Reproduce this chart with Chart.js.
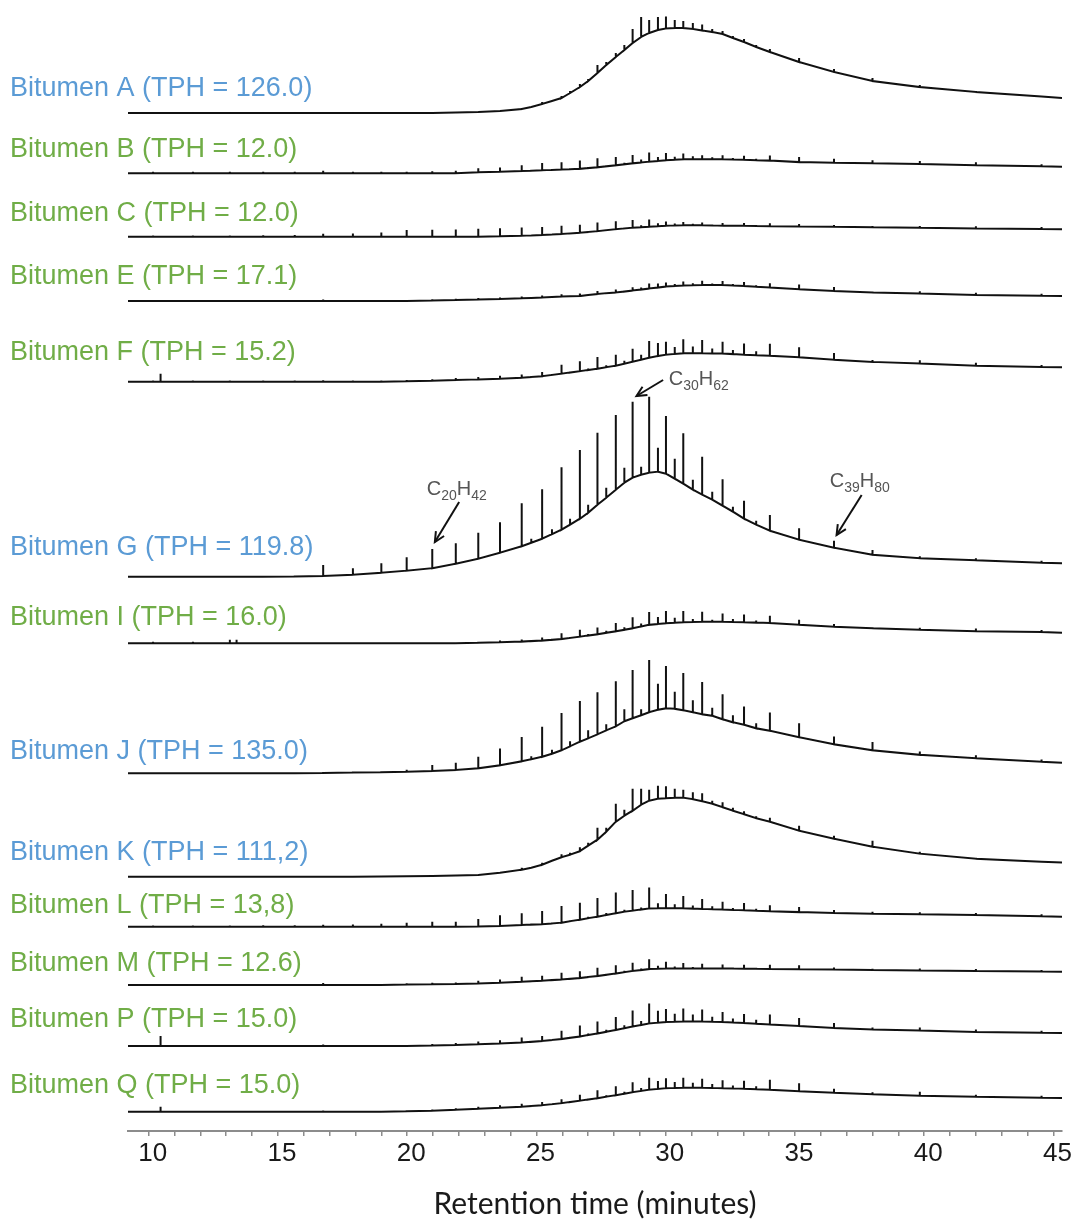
<!DOCTYPE html>
<html>
<head>
<meta charset="utf-8">
<script src="https://cdn.jsdelivr.net/npm/chart.js@4.4.1/dist/chart.umd.min.js"></script>
<style>
  html, body { margin: 0; padding: 0; background: #fff; }
  #wrap { width: 1072px; height: 1223px; position: relative; }
</style>
</head>
<body>
<div id="wrap"><canvas id="grafico"></canvas></div>
<script>
// retention times (minutes) used by every chromatogram
const retentionTimes = [
  9.2, 10.17, 10.46, 11.71, 13.14, 13.4, 14.43, 15.65, 16.75, 17.9,
  19.0, 19.98, 20.97, 21.88, 22.75, 23.59, 24.43, 24.8, 25.22, 25.6,
  25.97, 26.3, 26.68, 27.0, 27.36, 27.7, 28.07, 28.4, 28.72, 29.05,
  29.36, 29.7, 30.01, 30.35, 30.68, 31.05, 31.41, 31.8, 32.2, 32.6,
  33.03, 33.5, 34.03, 35.16, 36.51, 38.0, 39.83, 42.0, 44.54, 45.33
];

const sampleLabels = [
  'Bitumen A (TPH = 126.0)', 'Bitumen B (TPH = 12.0)', 'Bitumen C (TPH = 12.0)',
  'Bitumen E (TPH = 17.1)', 'Bitumen F (TPH = 15.2)', 'Bitumen G (TPH = 119.8)',
  'Bitumen I (TPH = 16.0)', 'Bitumen J (TPH = 135.0)', 'Bitumen K (TPH = 111,2)',
  'Bitumen L (TPH = 13,8)', 'Bitumen M (TPH = 12.6)', 'Bitumen P (TPH = 15.0)',
  'Bitumen Q (TPH = 15.0)'
];
const highTph = [true, false, false, false, false, true, false, true, true, false, false, false, false];

// unresolved hump (intensity above each trace start) and n-alkane spike heights
const humpA = [
  0, 0, 0, 0, 0, 0, 0, 0, 0, 0,
  0, 0, 0, 0.5, 1, 2, 4, 6, 9, 12,
  15, 20, 26, 32, 40, 48, 56, 63, 70, 76,
  80, 83, 84.5, 85, 85, 84, 82.5, 81, 79, 75,
  71, 66, 61, 51, 41, 32, 26, 21, 16.5, 15
];
const spikeA = [
  0, 0, 0, 0, 0, 0, 0, 0, 0, 0,
  0, 0, 0, 0, 0, 0, 1, 0, 2, 0,
  2, 2, 3, 2, 8, 3, 4, 5, 14, 20,
  13, 13, 12, 8, 7, 6, 6, 3, 3, 2,
  3, 2, 3, 4, 3, 3, 2, 1, 0, 0
];
const humpB = [
  0, 0, 0, 0, 0, 0, 0, 0, 0, 0,
  0, 0, 0, 0, 1, 1.5, 2.3, 2.6, 3, 3.4,
  3.8, 4.1, 4.5, 5.2, 6, 7, 8, 9, 10, 10.8,
  11.6, 12.3, 13, 13.5, 14, 14, 14, 14, 14, 13.8,
  13.5, 13.1, 12.7, 11.2, 10.5, 10, 9.2, 8, 7, 6.6
];
const spikeB = [
  0, 1.5, 0, 1.5, 1.5, 0, 1.5, 1.5, 2.5, 1.5,
  1.5, 1.5, 2, 2.5, 4, 4.3, 5.7, 1, 7.3, 1,
  7.3, 1, 8.3, 1, 9, 1, 8.3, 1.5, 8.3, 3,
  9.3, 4, 7.3, 3, 5.7, 3, 4, 2, 4, 1.5,
  4, 1.5, 5, 5, 4, 3, 3, 3, 2, 0
];
const humpC = [
  0, 0, 0, 0, 0, 0, 0, 0, 0, 0,
  0, 0, 0, 0, 0, 0.5, 1, 1.3, 1.7, 2.2,
  2.7, 3.3, 4, 4.7, 5.5, 6.5, 7.5, 8.3, 9, 9.5,
  10, 10.5, 11, 11.3, 11.5, 11.5, 11.5, 11.3, 11, 11,
  11, 10.8, 10.5, 10.3, 10, 9.5, 9, 8.2, 7.6, 7.4
];
const spikeC = [
  0, 1.3, 0, 1.3, 1.3, 0, 1.5, 1.7, 3, 3.3,
  4.3, 6.7, 7, 7.3, 8, 8, 8.3, 0.5, 8, 0.5,
  8.3, 0.5, 8, 0.5, 8.7, 0.5, 8, 1, 7.7, 2,
  7.3, 3, 4.3, 2, 3.3, 1.5, 2.7, 1, 2.7, 1,
  2.7, 1, 3, 2.3, 1.7, 1.3, 1.7, 2.3, 2, 0
];
const humpE = [
  0, 0, 0, 0, 0, 0, 0, 0, 0, 0,
  0, 0, 0.5, 1, 1.5, 2, 2.7, 3.1, 3.5, 4,
  4.5, 4.7, 5, 6, 7, 7.8, 8.5, 9.5, 10.5, 11.5,
  12.5, 13.5, 14.5, 15, 15.5, 15.8, 16, 16, 16, 15.5,
  15, 14.3, 13.5, 11.8, 10, 8.5, 7.5, 6, 5.2, 5
];
const spikeE = [
  0, 1, 0, 1, 1, 0, 1, 1, 1.5, 1,
  1, 1, 1.2, 1.2, 1.5, 1.5, 1.7, 0, 2, 0,
  2.2, 0, 2.5, 0, 3, 0.5, 3, 1, 3.3, 2,
  5, 4, 4, 2, 4, 2, 4.3, 1.5, 4, 1.5,
  4, 1.5, 4.3, 4.7, 4, 1, 2.3, 2.3, 2, 0
];
const humpF = [
  0, 0, 0, 0, 0, 0, 0, 0, 0, 0,
  0, 0.5, 1, 1.7, 2.3, 3, 4, 4.7, 5.5, 6.8,
  8, 9.2, 10.5, 11.7, 13, 14.5, 16, 18, 20, 22,
  24, 25.7, 27, 27.8, 28.4, 28.4, 28.4, 28.3, 28.2, 27.6,
  27, 26.5, 26, 24.4, 22, 19.8, 18.2, 16, 14.6, 14.4
];
const spikeF = [
  0, 1.2, 8, 1.2, 1.2, 0, 1.2, 1.2, 1.5, 1.2,
  1.2, 1.2, 1.5, 2, 2.3, 3, 3.3, 1, 4.3, 1,
  9, 1, 10, 1.5, 11.7, 2, 11, 3, 13, 5,
  16.7, 13, 13, 7, 14, 6.7, 13.3, 5, 11.7, 4,
  11.3, 4, 12, 10, 6.7, 2, 3.3, 3, 2, 0
];
const humpG = [
  0, 0, 0, 0, 0, 0, 0, 0.3, 0.7, 2,
  4, 6, 8.5, 13, 18, 24, 30.5, 34, 38, 42.5,
  47, 52, 58, 64, 72, 79, 87, 94, 99, 102,
  104, 105, 103, 98, 93, 87, 82, 77, 71, 65,
  58, 52, 46, 37, 29, 22, 18.5, 16.5, 14, 13.4
];
const spikeG = [
  0, 0, 0, 1, 1, 0, 1, 1, 11, 6.4,
  9.4, 13.4, 19.2, 20.4, 26, 30.4, 43, 4, 49.4, 5,
  62.4, 6, 68.7, 8, 72, 10, 74.7, 15, 76, 8,
  76, 24, 57.7, 20, 50.4, 10, 38, 8, 26.4, 5,
  18, 4, 15.7, 11.4, 7, 4.7, 2, 2, 2, 0
];
const humpI = [
  0, 0, 0, 0, 0, 0, 0, 0, 0, 0,
  0, 0, 0, 0, 0.5, 1, 1.7, 2.2, 2.7, 3.5,
  4.3, 5.4, 6.6, 7.8, 9, 10.5, 12, 13.5, 15, 16.8,
  18.5, 19.3, 20, 20.5, 21, 21.3, 21.5, 21.5, 21.5, 21.3,
  21, 20.7, 20.3, 18.5, 16.5, 15, 13.5, 12, 11.3, 10.6
];
const spikeI = [
  0, 1.5, 0, 1.5, 3.5, 3.5, 0.7, 0.7, 0.7, 0.7,
  0.7, 0.7, 0.7, 0.7, 1, 1.7, 2, 0.5, 3, 1,
  5.7, 1, 7, 1.5, 6.7, 2, 8.3, 2.5, 11, 3,
  12.7, 7, 12.3, 5, 11.3, 3, 10, 2, 8.3, 3,
  7.7, 2, 7.3, 5, 2.7, 1, 2, 2.7, 2, 0
];
const humpJ = [
  0, 0, 0, 0, 0, 0, 0, 0, 0.3, 0.7,
  1, 1.5, 2.3, 3.3, 5, 8, 12, 14, 16.5, 19.5,
  23, 27, 31.6, 35, 39, 43, 47, 52, 55, 58,
  61, 63.5, 65, 64.5, 63, 61, 59, 57.5, 54, 51,
  48.5, 45, 42.5, 36, 29, 23, 18.5, 15, 11.6, 10.6
];
const spikeJ = [
  0, 0, 0, 0, 0, 0, 0, 0, 1, 1,
  1, 2, 6, 7.3, 11.6, 16.7, 24.3, 3, 30, 4,
  37.3, 5, 40.7, 8, 42, 6, 45, 12, 48.3, 6,
  52.4, 26, 42.3, 17, 37.3, 12, 32.3, 8, 25, 7,
  18.3, 5, 18.4, 14, 7.7, 8.3, 3.3, 3, 2.3, 0
];
const humpK = [
  0, 0, 0, 0, 0, 0, 0, 0, 0, 0,
  0.3, 0.5, 0.8, 1.2, 1.7, 4, 7, 9, 12, 16,
  19.5, 22, 25.5, 31, 37, 45, 55, 61, 66, 72,
  76, 78, 78.5, 79, 79, 77.5, 75.5, 73, 69.5, 66,
  62.5, 58.5, 55, 46, 38, 30, 23, 18, 15, 14.3
];
const spikeK = [
  0, 0, 0, 0, 0, 0, 0, 0, 1, 0,
  0, 0, 0, 0, 0, 0, 2, 0, 2, 0,
  3, 2, 4, 3, 12, 4, 18, 6, 22, 16,
  11, 13, 12, 9, 8, 7, 8, 3, 5, 3,
  3, 2, 4, 5, 3, 6, 2, 1, 0, 0
];
const humpL = [
  0, 0, 0, 0, 0, 0, 0, 0, 0, 0,
  0, 0, 0, 0, 0.3, 0.8, 1.7, 2.1, 2.5, 3.2,
  4, 5.5, 7, 8.5, 10, 11.7, 13.5, 15, 16, 17.2,
  18.3, 18.4, 18.5, 18.5, 18.4, 18.1, 17.8, 17.5, 17.2, 16.8,
  16.5, 16, 15.5, 14.6, 13.7, 13, 12.4, 11.7, 10.5, 10
];
const spikeL = [
  0, 1.3, 0, 1.3, 1.3, 1, 1.5, 1.5, 2, 2.3,
  3, 4, 5, 5, 7.3, 10.7, 11.7, 1, 13.3, 1,
  16.7, 1, 17, 1.5, 18.7, 2, 20.7, 2, 20.7, 2,
  21, 5, 14.3, 4, 12.3, 3, 10, 3, 7.7, 2,
  7.3, 2, 6, 5, 3, 2, 2, 2, 2, 0
];
const humpM = [
  0, 0, 0, 0, 0, 0, 0, 0, 0, 0,
  0, 0.5, 0.7, 1, 1.5, 2.3, 3.3, 3.8, 4.3, 4.9,
  5.5, 6.2, 7, 8, 9, 10.2, 11.5, 12.8, 14, 15,
  16, 16.3, 16.5, 16.6, 16.7, 16.6, 16.5, 16.5, 16.4, 16.4,
  16.3, 16.2, 16, 15.8, 15.5, 15, 14.5, 14, 13.4, 13.3
];
const spikeM = [
  0, 1, 0, 1, 1, 0, 1, 1, 2, 1,
  1, 1.2, 1.5, 1.5, 2.7, 3.3, 5, 0.5, 5, 0.5,
  6.7, 0.5, 6.7, 1, 8.3, 1, 8.3, 1.5, 8.3, 1.5,
  9.7, 3, 6.7, 2, 5.3, 1.5, 4.7, 1, 4, 1,
  4, 1, 4.3, 4, 2, 1.3, 2, 2, 1.7, 0
];
const humpP = [
  0, 0, 0, 0, 0, 0, 0, 0, 0, 0,
  0, 0, 0.5, 1, 1.7, 2.5, 3.5, 4.2, 5, 6,
  7, 8.2, 9.5, 11, 12.5, 14.2, 16, 17.8, 19.5, 21,
  22.5, 23.3, 24, 24.3, 24.5, 24.5, 24.5, 24.3, 24, 23.5,
  23, 22.3, 21.5, 20, 18, 16.5, 15.5, 14, 13.3, 13
];
const spikeP = [
  0, 1, 10, 1, 1, 0, 1, 1, 1.5, 1,
  1, 1, 1.5, 2, 2.7, 3.3, 5, 0.5, 5, 0.5,
  8.3, 1, 11, 1.5, 12, 2, 13, 3, 16, 4,
  20, 12, 13, 8, 13, 7, 12, 5, 10, 4,
  9, 4, 10, 8, 5, 2, 3, 2.5, 2, 0
];
const humpQ = [
  0, 0, 0, 0, 0, 0, 0, 0, 0, 0,
  0, 0.5, 1, 2, 3, 4, 5, 5.7, 6.5, 7.5,
  8.5, 9.7, 11, 12.2, 13.5, 15, 16.5, 18, 19.5, 20.8,
  22, 22.8, 23.5, 23.8, 24, 24, 24, 23.8, 23.5, 23.3,
  23, 22.5, 22, 20.5, 19, 17.5, 16, 15, 14, 13.7
];
const spikeQ = [
  0, 1, 5, 1, 1, 0, 1, 1, 1.3, 1,
  1, 1, 1.2, 1.5, 2, 2.5, 3, 0.5, 3.3, 0.5,
  4, 1, 6, 1, 8, 1.5, 9, 2, 10, 3,
  12, 8, 10, 6, 10, 5, 9, 4, 8, 3,
  8, 3, 10, 8, 4, 2, 4, 2, 2, 0
];

const xTicks = [10, 15, 20, 25, 30, 35, 40, 45];

// ---- layout (not data) ----
// vertical start level of each trace, in the same units as the hidden y axis
const traceLevels = [1018, 957.7, 894.3, 830, 749.3, 554.3, 487.7, 357.7, 254.3, 204.3, 146, 85, 19.3];
const labelY = [89, 150, 214, 277, 353, 548, 618, 752, 853, 906, 964, 1020, 1086];

const humps = [humpA, humpB, humpC, humpE, humpF, humpG, humpI, humpJ, humpK, humpL, humpM, humpP, humpQ];
const spikes = [spikeA, spikeB, spikeC, spikeE, spikeF, spikeG, spikeI, spikeJ, spikeK, spikeL, spikeM, spikeP, spikeQ];

function buildSeries(level, hump, spike) {
  const pts = [];
  retentionTimes.forEach((t, i) => {
    const y = level + hump[i];
    pts.push({ x: t, y: y });
    if (spike[i] > 0) {
      pts.push({ x: t, y: y + spike[i] });
      pts.push({ x: t, y: y });
    }
  });
  return pts;
}

const datasets = humps.map((h, k) => ({
  label: sampleLabels[k],
  data: buildSeries(traceLevels[k], h, spikes[k]),
  borderColor: '#111',
  borderWidth: 2,
  pointRadius: 0,
  tension: 0,
  fill: false
}));

// annotated n-alkanes: arrow tip, arrow tail, text anchor (x in minutes, y in axis units)
const annotations = [
  { parts: [['C', 0], ['20', 1], ['H', 0], ['42', 1]], tip: [21.07, 589], tail: [22.01, 629], text: [21.92, 643], align: 'center' },
  { parts: [['C', 0], ['30', 1], ['H', 0], ['62', 1]], tip: [28.87, 735], tail: [29.9, 751], text: [30.12, 753], align: 'left' },
  { parts: [['C', 0], ['39', 1], ['H', 0], ['80', 1]], tip: [36.61, 596], tail: [37.58, 636], text: [37.51, 651], align: 'center' }
];

function drawFormula(ctx, parts, x, y, align) {
  const big = '20px "Liberation Sans", Arial, sans-serif';
  const small = '14px "Liberation Sans", Arial, sans-serif';
  let w = 0;
  parts.forEach(p => { ctx.font = p[1] ? small : big; w += ctx.measureText(p[0]).width; });
  let cx = align === 'center' ? x - w / 2 : x;
  ctx.textBaseline = 'alphabetic';
  ctx.textAlign = 'left';
  parts.forEach(p => {
    ctx.font = p[1] ? small : big;
    ctx.fillText(p[0], cx, p[1] ? y + 12 : y + 7);
    cx += ctx.measureText(p[0]).width;
  });
}

function drawArrow(ctx, x1, y1, x2, y2) {
  ctx.beginPath();
  ctx.moveTo(x1, y1);
  ctx.lineTo(x2, y2);
  ctx.stroke();
  const a = Math.atan2(y2 - y1, x2 - x1), L = 11, w = 0.45;
  ctx.beginPath();
  ctx.moveTo(x2 - L * Math.cos(a - w), y2 - L * Math.sin(a - w));
  ctx.lineTo(x2, y2);
  ctx.lineTo(x2 - L * Math.cos(a + w), y2 - L * Math.sin(a + w));
  ctx.stroke();
}

const labelPlugin = {
  id: 'labels',
  afterDatasetsDraw(chart) {
    const ctx = chart.ctx;
    const xs = chart.scales.x, ys = chart.scales.y;
    ctx.save();
    ctx.font = '27px "Liberation Sans", Arial, sans-serif';
    ctx.textAlign = 'left';
    ctx.textBaseline = 'middle';
    sampleLabels.forEach((s, k) => {
      ctx.fillStyle = highTph[k] ? '#5b9bd5' : '#70ad47';
      ctx.fillText(s, 10, labelY[k]);
    });
    annotations.forEach(a => {
      ctx.strokeStyle = '#111';
      ctx.lineWidth = 2;
      drawArrow(ctx, xs.getPixelForValue(a.tail[0]), ys.getPixelForValue(a.tail[1]),
        xs.getPixelForValue(a.tip[0]), ys.getPixelForValue(a.tip[1]));
      ctx.fillStyle = '#555';
      drawFormula(ctx, a.parts, xs.getPixelForValue(a.text[0]), ys.getPixelForValue(a.text[1]), a.align);
    });
    ctx.restore();
  }
};

const ctx = document.getElementById('grafico').getContext('2d');

new Chart(ctx, {
  type: 'line',
  data: { datasets: datasets },
  options: {
    responsive: true,
    maintainAspectRatio: false,
    animation: false,
    events: [],
    layout: { padding: { left: 128, right: 10, top: 0, bottom: 0 } },
    plugins: { legend: { display: false }, tooltip: { enabled: false } },
    scales: {
      x: {
        type: 'linear',
        min: 9.2,
        max: 45.33,
        afterBuildTicks: s => { s.ticks = s.ticks.filter(t => Number.isInteger(t.value)); },
        afterFit: s => { s.height = 92; },
        border: { display: true, color: '#8c8c8c', width: 2 },
        grid: { drawOnChartArea: false, drawTicks: true, tickLength: 5, color: '#8c8c8c', lineWidth: 1.5 },
        ticks: {
          stepSize: 1,
          includeBounds: false,
          autoSkip: false,
          maxRotation: 0,
          padding: 2,
          labelOffset: 4,
          color: '#1a1a1a',
          font: { family: '"Liberation Sans", Arial, sans-serif', size: 26 },
          callback: v => xTicks.includes(v) ? String(v) : ''
        },
        title: {
          display: true,
          text: 'Retention time (minutes)',
          color: '#1a1a1a',
          font: { family: 'Lato, sans-serif', size: 30 },
          padding: { top: 0, bottom: 1 }
        }
      },
      y: { display: false, min: 0, max: 1131 }
    }
  },
  plugins: [labelPlugin]
});
</script>
</body>
</html>
